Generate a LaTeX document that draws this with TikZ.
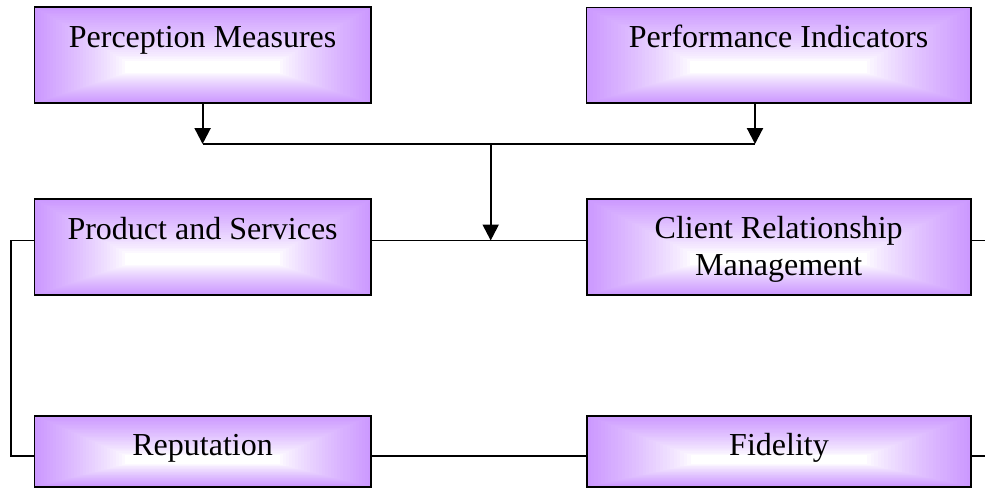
\documentclass[tikz,border=0pt]{standalone}
\usepackage{fontspec}
\setmainfont{Liberation Serif}
\usetikzlibrary{arrows.meta,calc}
\definecolor{boxpurple}{RGB}{204,153,255}
\newcommand\gradfill[4]{% x0 y0 x1 y1 (pixels, y downward)
  \foreach \i in {0,...,30}{%
    \pgfmathsetmacro\gt{\i/30}%
    \pgfmathsetmacro\gp{100*(1-\gt)^0.8}%
    \fill[boxpurple!\gp!white] ({#1+\gt*0.27*(#3-#1)},{#2+\gt*0.56*(#4-#2)}) rectangle ({#3-\gt*0.27*(#3-#1)},{#4-\gt*0.32*(#4-#2)});
  }}
\tikzset{
  frame/.style={draw=black, line width=1.8pt, inner sep=0pt, fill=none},
  lbl/.style={anchor=base, inner sep=0pt, font=\fontsize{32}{37}\selectfont, align=center},
  wire/.style={draw=black, line width=1.8pt},
  arr/.style={draw=black, line width=2.2pt, -{Triangle[width=16pt,length=16pt]}}
}
\begin{document}
\begin{tikzpicture}[x=1pt,y=-1pt]
\useasboundingbox (0,0) rectangle (985,488);
% gradients
\gradfill{34.5}{7.3}{370.7}{103.3}
\gradfill{586.5}{7.5}{970.7}{103.3}
\gradfill{34.5}{199.3}{370.7}{295.3}
\gradfill{586.7}{199.3}{970.7}{295.3}
\gradfill{34.5}{415.7}{370.7}{486.7}
\gradfill{587.3}{415.7}{970.7}{486.7}
% box frames
\node[frame, minimum width=336.2pt, minimum height=96pt] (pm) at (202.6,55.3) {};
\node[frame, minimum width=384.2pt, minimum height=95.8pt] (pi) at (778.6,55.4) {};
\node[frame, minimum width=336.2pt, minimum height=96pt] (ps) at (202.6,247.3) {};
\node[frame, minimum width=384pt, minimum height=96pt] (crm) at (778.7,247.3) {};
\node[frame, minimum width=336.2pt, minimum height=71pt] (rep) at (202.6,451.2) {};
\node[frame, minimum width=383.4pt, minimum height=71pt] (fid) at (779,451.2) {};
% labels
\node[lbl] (pm-t) at ($(pm.north)+(0,41)$) {Perception Measures};
\node[lbl] (pi-t) at ($(pi.north)+(0,41)$) {Performance Indicators};
\node[lbl] (ps-t) at ($(ps.north)+(0,41)$) {Product and Services};
\node[lbl] (crm-t) at ($(crm.north)+(0,77.5)$) {Client Relationship\\Management};
\node[lbl] (rep-t) at ($(rep.north)+(0,41)$) {Reputation};
\node[lbl] (fid-t) at ($(fid.north)+(0,41)$) {Fidelity};
% junction coordinates
\coordinate (a1) at (202.6,144);
\coordinate (a2) at (755,144);
\coordinate (jt) at (490.7,144);
\coordinate (mid) at (490.7,240.5);
\coordinate (lw) at (10.7,455.7);
\coordinate (re1) at (985,240.5);
\coordinate (re2) at (985,455.7);
% connectors
\draw[arr] (a1 |- pm.south) -- (a1);
\draw[arr] (a2 |- pi.south) -- (a2);
\draw[wire] (a1) -- (a2);
\draw[arr] (jt) -- (mid);
\draw[wire] (ps.east |- mid) -- (crm.west |- mid);
\draw[wire] (crm.east |- mid) -- (re1);
\draw[wire] (ps.west |- mid) -| (lw) -- (lw -| rep.west);
\draw[wire] (rep.east |- lw) -- (fid.west |- lw);
\draw[wire] (fid.east |- re2) -- (re2);
\end{tikzpicture}
\end{document}
